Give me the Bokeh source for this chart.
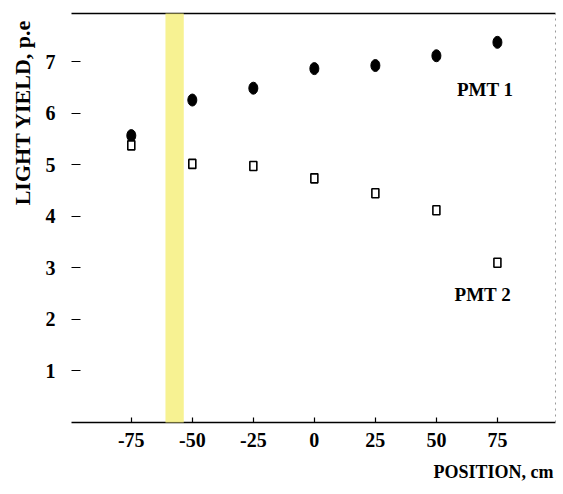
import math
from bokeh.plotting import figure
from bokeh.models import (Range1d, FixedTicker, LinearAxis, Label, BoxAnnotation, Title)
from bokeh.embed import file_html
from bokeh.resources import INLINE

# data
positions = [-75, -50, -25, 0, 25, 50, 75]
pmt1 = [5.57, 6.26, 6.49, 6.87, 6.93, 7.12, 7.38]
pmt2 = [5.38, 5.02, 4.98, 4.74, 4.45, 4.12, 3.10]
x_ticks = [-75, -50, -25, 0, 25, 50, 75]
x_tick_labels = ["-75", "-50", "-25", "0", "25", "50", "75"]
y_ticks = [1, 2, 3, 4, 5, 6, 7]

FONT = "Liberation Serif"

p = figure(width=563, height=494, output_backend="svg", toolbar_location=None,
           x_range=Range1d(-99.5, 98.8), y_range=Range1d(0, 7.94),
           min_border_left=71, min_border_right=8, min_border_top=13, min_border_bottom=72,
           x_axis_location=None, y_axis_location=None)
p.grid.visible = False
p.outline_line_color = None
p.background_fill_color = "white"
p.border_fill_color = "white"

# bottom axis
xa = LinearAxis(ticker=FixedTicker(ticks=x_ticks))
xa.major_label_overrides = {t: s for t, s in zip(x_ticks, x_tick_labels)}
xa.major_tick_in = 5
xa.major_tick_out = 0
xa.minor_tick_line_color = None
xa.axis_line_width = 1.5
xa.major_tick_line_width = 1.2
xa.major_label_standoff = 10
xa.major_label_text_font = FONT
xa.major_label_text_font_style = "bold"
xa.major_label_text_font_size = "20px"
xa.major_label_text_color = "black"
p.add_layout(xa, "below")

# left axis
ya = LinearAxis(ticker=FixedTicker(ticks=y_ticks))
ya.major_tick_in = 9
ya.major_tick_out = 0
ya.minor_tick_line_color = None
ya.axis_line_color = None
ya.major_tick_line_width = 1.2
ya.major_label_standoff = 16
ya.major_label_text_font = FONT
ya.major_label_text_font_style = "bold"
ya.major_label_text_font_size = "20px"
ya.major_label_text_color = "black"
p.add_layout(ya, "left")

# top frame line
ta = LinearAxis(ticker=FixedTicker(ticks=[]))
ta.axis_line_width = 1.5
ta.minor_tick_line_color = None
ta.major_tick_line_color = None
p.add_layout(ta, "above")

# right faint dashed frame line
ra = LinearAxis(ticker=FixedTicker(ticks=[]))
ra.axis_line_color = "#999999"
ra.axis_line_dash = "2 4"
ra.minor_tick_line_color = None
ra.major_tick_line_color = None
p.add_layout(ra, "right")

# axis titles
ytitle = Title(text="LIGHT YIELD, p.e", align="right", offset=6, standoff=15,
               text_font=FONT, text_font_style="bold", text_font_size="22px",
               text_color="black")
p.add_layout(ytitle, "left")
xtitle = Title(text="POSITION, cm", align="right", offset=2, standoff=20,
               text_font=FONT, text_font_style="bold", text_font_size="18px",
               text_color="black")
p.add_layout(xtitle, "below")

# PMT 1 filled markers
p.ellipse(x=positions, y=pmt1, width=9, height=12, width_units="screen",
          height_units="screen", fill_color="black", line_color="black")
# PMT 2 open squares
p.rect(x=positions, y=pmt2, width=7, height=9, width_units="screen",
       height_units="screen", fill_color="white", line_color="black", line_width=1.6)

def lab(text, x, y, size, align="center"):
    l = Label(x=x, y=y, text=text, text_align=align,
              text_baseline="middle", text_font=FONT,
              text_font_style="bold", text_font_size=size, text_color="black")
    p.add_layout(l)

lab("PMT 1", 70, 6.47, "19px")
lab("PMT 2", 69, 2.49, "19px")

# yellow highlighter stripe across the scan
band = BoxAnnotation(left=-61, right=-53.5, bottom=-1.6, top=8.4,
                     fill_color="#f6f07f", fill_alpha=0.85, line_color=None,
                     level="overlay")
p.add_layout(band)

open("out.html", "w").write(file_html(p, INLINE))
